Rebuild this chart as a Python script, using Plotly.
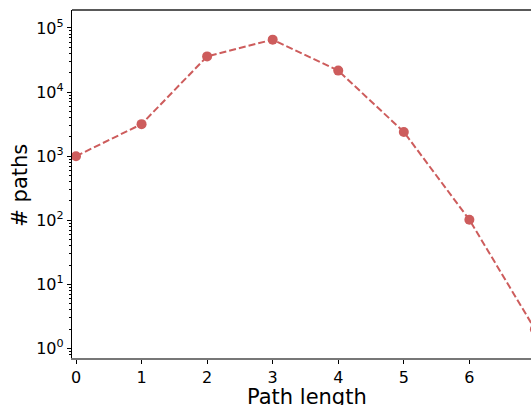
import plotly.graph_objects as go

path_length = [0, 1, 2, 3, 4, 5, 6, 7]
n_paths = [1000, 3160, 36000, 65700, 21600, 2390, 102, 2.0]

y_tick_vals = [1, 10, 100, 1000, 10000, 100000]
y_tick_text = ["10<sup>0</sup>", "10<sup>1</sup>", "10<sup>2</sup>",
               "10<sup>3</sup>", "10<sup>4</sup>", "10<sup>5</sup>"]
x_tick_vals = [0, 1, 2, 3, 4, 5, 6]

x_title = "Path length"
y_title = "# paths"

minor_vals = [m * 10 ** k for k in range(-1, 6) for m in range(2, 10)]

color = "#CD5C5C"
font = "DejaVu Sans"

fig = go.Figure()
fig.add_trace(go.Scatter(
    x=path_length, y=n_paths, mode="lines+markers",
    line=dict(color=color, width=2, dash="7px,3px"),
    marker=dict(color=color, size=10),
    showlegend=False,
))

fig.update_layout(
    width=531, height=405,
    margin=dict(l=72, r=0, t=10, b=46.5),
    paper_bgcolor="white", plot_bgcolor="white",
    font=dict(family=font, size=16, color="black"),
    shapes=[dict(type="line", xref="paper", yref="paper", x0=0, x1=1, y0=1, y1=1,
                 line=dict(color="#222", width=1.3))],
    annotations=[
        dict(text=x_title, xref="paper", yref="paper", x=0.511, y=-0.111,
             xanchor="center", yanchor="middle", showarrow=False,
             font=dict(size=21, family=font, color="black")),
        dict(text=y_title, xref="paper", yref="paper", x=-0.1133, y=0.498,
             xanchor="center", yanchor="middle", showarrow=False, textangle=-90,
             font=dict(size=21, family=font, color="black")),
    ],
)
fig.update_xaxes(
    range=[-0.061, 6.94], tickvals=x_tick_vals, automargin=False,
    showgrid=False, zeroline=False,
    showline=True, linecolor="#777", linewidth=1.5,
    ticks="outside", ticklen=4, tickcolor="black", tickwidth=1,
    tickfont=dict(size=16),
)
fig.update_yaxes(
    type="log", range=[-0.148, 5.28], automargin=False,
    tickvals=y_tick_vals, ticktext=y_tick_text,
    showgrid=False, zeroline=False,
    showline=True, linecolor="black", linewidth=1.3,
    ticks="outside", ticklen=4, tickcolor="black", tickwidth=1,
    tickfont=dict(size=16),
    minor=dict(tickvals=minor_vals, ticks="outside", ticklen=2, tickcolor="black", tickwidth=0.8, showgrid=False),
)

fig.write_html("out.html")
